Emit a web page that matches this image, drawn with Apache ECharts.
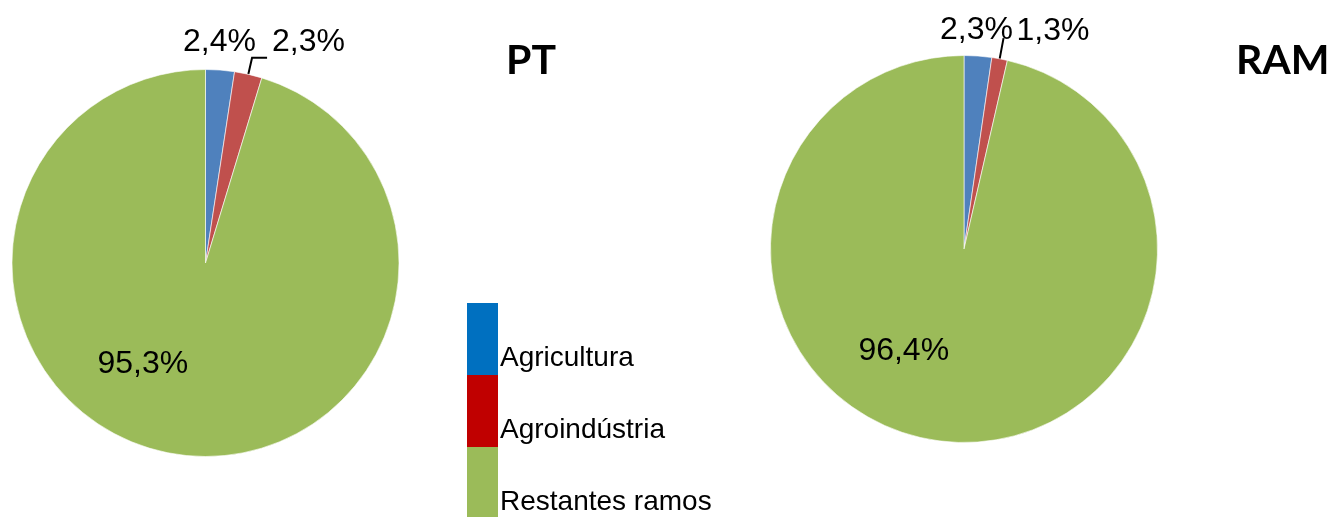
<!DOCTYPE html>
<html>
<head>
<meta charset="utf-8">
<script src="https://cdn.jsdelivr.net/npm/echarts@6/dist/echarts.min.js"></script>
<style>
html,body{margin:0;padding:0;background:#fff;}
#chart{width:1336px;height:517px;}
</style>
</head>
<body>
<div id="chart"></div>
<script>
var categories = ['Agricultura', 'Agroindústria', 'Restantes ramos'];
var ptValues = [2.4, 2.3, 95.3];
var ramValues = [2.3, 1.3, 96.4];
var chartTitles = ['PT', 'RAM'];

var sliceColors = ['#4F81BD', '#C0504D', '#9BBB59'];
var legendColors = ['#0070C0', '#C00000', '#9BBB59'];
var FONT = "'Liberation Sans', Arial, sans-serif";

function fmt(p) {
  return p.value.toFixed(1).replace('.', ',') + '%';
}

var labelCfg = [
  [
    {line: false, length: 0, length2: 0},
    {line: true, length: 17, length2: 15},
    {inside: true}
  ],
  [
    {line: false, length: 0, length2: 0},
    {line: true, length: 21, length2: 0},
    {inside: true}
  ]
];
var labelShift = [
  [[-41, -28], [1, -16], [-48, 3]],
  [[-42, -26], [9, -7], [-49, 3]]
];

function buildData(values, si) {
  return values.map(function (v, i) {
    var c = labelCfg[si][i];
    var item = {name: categories[i], value: v, itemStyle: {color: sliceColors[i]}};
    if (c.inside) {
      item.label = {position: 'inside'};
      item.labelLine = {show: false};
    } else {
      item.label = {position: 'outside'};
      item.labelLine = {show: c.line, length: c.length, length2: c.length2};
    }
    return item;
  });
}

function pieSeries(values, si, center) {
  return {
    type: 'pie',
    name: chartTitles[si],
    center: center,
    radius: 193.5,
    startAngle: 90,
    clockwise: true,
    avoidLabelOverlap: false,
    silent: true,
    animation: false,
    itemStyle: {borderColor: '#ffffff', borderWidth: 0.6},
    label: {
      show: true,
      formatter: fmt,
      fontFamily: FONT,
      fontSize: 32,
      color: '#000',
      distanceToLabelLine: 4
    },
    labelLine: {lineStyle: {color: '#000', width: 2}, smooth: false},
    labelLayout: function (p) {
      var s = labelShift[si][p.dataIndex];
      return {dx: s[0], dy: s[1]};
    },
    data: buildData(values, si)
  };
}

var titleStyle = {fontFamily: 'Lato, ' + FONT, fontWeight: 'bold', fontSize: 41, color: '#000'};

var chart = echarts.init(document.getElementById('chart'), null, {renderer: 'canvas'});
chart.setOption({
  backgroundColor: '#ffffff',
  animation: false,
  title: [
    {text: chartTitles[0], left: 506, top: 40, padding: 0, textStyle: titleStyle},
    {text: chartTitles[1], left: 1236, top: 40, padding: 0, textStyle: titleStyle}
  ],
  legend: {
    orient: 'vertical',
    left: 467,
    top: 303,
    height: 400,
    padding: 0,
    itemGap: 0,
    itemWidth: 31,
    itemHeight: 72,
    icon: 'rect',
    selectedMode: false,
    itemStyle: {borderWidth: 0, borderColor: 'transparent'},
    data: categories.map(function (c, i) {
      return {name: c, itemStyle: {color: legendColors[i], borderWidth: 0}};
    }),
    formatter: function (name) { return '{s| }\n{t|' + name + '}'; },
    textStyle: {
      fontFamily: FONT,
      fontSize: 28,
      color: '#000',
      padding: [0, 0, 0, -3],
      rich: {
        s: {fontFamily: FONT, fontSize: 28, lineHeight: 38},
        t: {fontFamily: FONT, fontSize: 28, lineHeight: 34, color: '#000'}
      }
    }
  },
  series: [
    pieSeries(ptValues, 0, [205.5, 263]),
    pieSeries(ramValues, 1, [964, 249])
  ]
});
</script>
</body>
</html>
